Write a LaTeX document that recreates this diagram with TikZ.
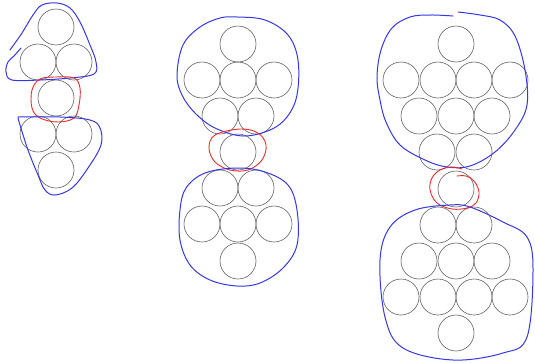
\documentclass[tikz,border=0pt]{standalone}
\definecolor{penblue}{RGB}{55,55,225}
\definecolor{penred}{RGB}{230,45,45}
\begin{document}
\begin{tikzpicture}[x=1pt,y=-1pt,
  ball/.style={circle,draw=black!62,line width=0.6pt,minimum size=36pt,inner sep=0pt},
  blueline/.style={draw=penblue,line width=1pt,line cap=round,line join=round},
  redline/.style={draw=penred,line width=0.9pt,line cap=round,line join=round}]
\useasboundingbox (0,0) rectangle (535,362);
% group 1
\node[ball] (a1) at (56,27) {};
\node[ball] (a2) at (38,62) {};
\node[ball] (a3) at (74,62) {};
\node[ball] (a4) at (56,98) {};
\node[ball] (a5) at (38,134) {};
\node[ball] (a6) at (74,134) {};
\node[ball] (a7) at (56,170) {};
\draw[blueline] plot[smooth,tension=0.6] coordinates {(10,50) (22,33) (33,15) (42,5) (57,3) (70,8) (80,22) (90,45) (96,62) (94,74) (70,78) (40,80) (12,80) (6,72) (8,62) (14,56) (21,48)};
\draw[redline] plot[smooth cycle,tension=0.6] coordinates {(40,79) (56,77) (74,78) (80,88) (79,105) (74,118) (58,122) (40,118) (32,108) (32,90)};
\draw[blueline] plot[smooth,tension=0.6] coordinates {(18,117) (60,117) (90,120) (100,128) (101,145) (88,168) (72,188) (55,195) (45,190) (38,175) (28,150) (20,125) (18,118)};
% group 2
\node[ball] (b1) at (238,44) {};
\node[ball] (b2) at (202,80) {};
\node[ball] (b3) at (238,80) {};
\node[ball] (b4) at (274,80) {};
\node[ball] (b5) at (220,116) {};
\node[ball] (b6) at (256,116) {};
\node[ball] (b7) at (238,152) {};
\node[ball] (b8) at (220,188) {};
\node[ball] (b9) at (256,188) {};
\node[ball] (b10) at (202,224) {};
\node[ball] (b11) at (238,224) {};
\node[ball] (b12) at (274,224) {};
\node[ball] (b13) at (238,261) {};
\draw[blueline] plot[smooth cycle,tension=0.6] coordinates {(237,17) (265,20) (288,35) (298,60) (297,95) (287,117) (270,130) (243,136) (215,128) (195,113) (182,95) (177,75) (183,45) (200,27) (220,18)};
\draw[redline] plot[smooth cycle,tension=0.6] coordinates {(240,129) (258,133) (266,145) (262,160) (248,170) (230,170) (215,162) (209,148) (215,135)};
\draw[blueline] plot[smooth cycle,tension=0.6] coordinates {(237,168) (265,172) (288,185) (297,210) (297,245) (283,268) (260,283) (237,286) (210,280) (190,265) (180,240) (180,210) (186,188) (205,173)};
% group 3
\node[ball] (c1) at (456,44) {};
\node[ball] (c2) at (401,80) {};
\node[ball] (c3) at (438,80) {};
\node[ball] (c4) at (474,80) {};
\node[ball] (c5) at (510,80) {};
\node[ball] (c6) at (419,116) {};
\node[ball] (c7) at (456,116) {};
\node[ball] (c8) at (492,116) {};
\node[ball] (c9) at (437,152) {};
\node[ball] (c10) at (474,152) {};
\node[ball] (c11) at (456,189) {};
\node[ball] (c12) at (438,225) {};
\node[ball] (c13) at (474,225) {};
\node[ball] (c14) at (419,261) {};
\node[ball] (c15) at (456,261) {};
\node[ball] (c16) at (492,261) {};
\node[ball] (c17) at (401,297) {};
\node[ball] (c18) at (438,297) {};
\node[ball] (c19) at (474,297) {};
\node[ball] (c20) at (510,297) {};
\node[ball] (c21) at (456,333) {};
\draw[blueline] plot[smooth,tension=0.6] coordinates {(453,16) (430,15) (410,17) (392,28) (381,50) (377,77) (380,100) (386,122) (400,145) (425,160) (447,167) (470,166) (495,152) (515,130) (527,105) (525,70) (515,36) (500,20) (480,15) (458,12)};
\draw[redline] plot[smooth,tension=0.6] coordinates {(457,176) (466,176) (474,181) (479,192) (476,203) (467,208) (452,209) (437,203) (430,190) (432,178) (440,170) (452,167) (462,169)};
\draw[blueline] plot[smooth cycle,tension=0.6] coordinates {(450,205) (470,207) (503,222) (527,237) (533,270) (527,337) (503,353) (453,360) (403,348) (385,317) (380,260) (390,227) (415,210)};
\end{tikzpicture}
\end{document}
